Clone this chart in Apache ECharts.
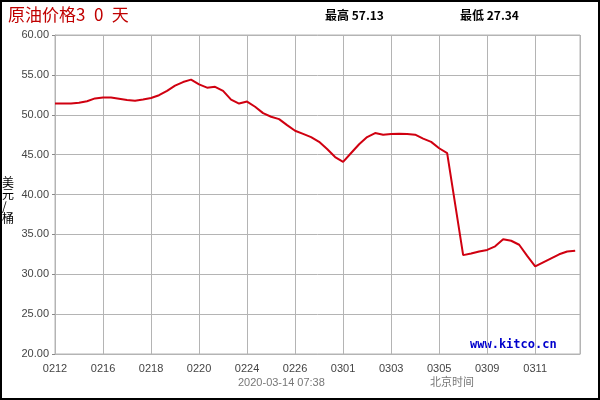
<!DOCTYPE html>
<html>
<head>
<meta charset="utf-8">
<script src="https://cdn.jsdelivr.net/npm/echarts@6/dist/echarts.min.js"></script>
<style>
html,body{margin:0;padding:0;background:#fff;}
#c{width:600px;height:400px;}
</style>
</head>
<body>
<div id="c"></div>
<script>
// tick labels (every 6th sample)
var tickLabels = ['0212','0216','0218','0220','0224','0226','0301','0303','0305','0309','0311'];
var ticksPerLabel = 6;
// price samples (USD / barrel)
var prices = [
  51.4, 51.4, 51.4, 51.5, 51.7, 52.05, 52.15, 52.15, 52.0, 51.85,
  51.75, 51.9, 52.1, 52.45, 53.0, 53.65, 54.1, 54.4, 53.8, 53.4,
  53.5, 53.0, 51.9, 51.4, 51.65, 51.0, 50.2, 49.75, 49.45, 48.7,
  48.0, 47.6, 47.2, 46.6, 45.7, 44.7, 44.1, 45.2, 46.3, 47.2,
  47.7, 47.5, 47.6, 47.62, 47.58, 47.5, 47.0, 46.6, 45.8, 45.2,
  38.8, 32.4, 32.6, 32.85, 33.05, 33.5, 34.4, 34.2, 33.7, 32.3,
  31.0, 31.5, 32.0, 32.5, 32.85, 32.95
];
var titleText = '原油价格3\u20020\u2002天';
var highText = '最高 57.13';
var lowText = '最低 27.34';
var yName = '美元/桶';
var stampText = '2020-03-14 07:38';
var tzText = '北京时间';
var siteText = 'www.kitco.cn';

var chart = echarts.init(document.getElementById('c'), null, {renderer:'canvas'});
var lineData = prices.map(function(v, i){ return [i, v]; });
var font = '"Liberation Sans", Arial, sans-serif';
var cjk = '"Noto Sans CJK SC", sans-serif';

chart.setOption({
  animation: false,
  backgroundColor: '#ffffff',
  grid: {left: 55, right: 20, top: 35, bottom: 46, show: true, borderColor: '#b4b4b4', borderWidth: 1},
  xAxis: {
    type: 'value', min: 0, max: 65.6, interval: ticksPerLabel,
    axisLine: {show: true, lineStyle: {color: '#b4b4b4'}},
    axisTick: {show: false},
    splitLine: {show: true, lineStyle: {color: '#b4b4b4', width: 1}},
    axisLabel: {
      color: '#444', fontSize: 11, fontFamily: font, margin: 9, showMaxLabel: false,
      formatter: function(v){ var k = Math.round(v / ticksPerLabel); return tickLabels[k] || ''; }
    }
  },
  yAxis: {
    type: 'value', min: 20, max: 60, interval: 5,
    axisLine: {show: true, lineStyle: {color: '#b4b4b4'}},
    axisTick: {show: true, length: 3, lineStyle: {color: '#888'}},
    splitLine: {show: true, lineStyle: {color: '#b4b4b4', width: 1}},
    axisLabel: {color: '#444', fontSize: 11, fontFamily: font, margin: 6,
      formatter: function(v){ return v.toFixed(2); }}
  },
  series: [{
    type: 'line', data: lineData, showSymbol: false, symbol: 'none',
    lineStyle: {color: '#d00010', width: 2}
  }],
  graphic: [
    {type: 'rect', shape: {x: 1, y: 1, width: 598, height: 398}, style: {fill: 'none', stroke: '#000', lineWidth: 2}, silent: true},
    {type: 'text', left: 8, top: 6, style: {text: titleText, fill: '#c00000', font: '17px ' + cjk}},
    {type: 'text', left: 325, top: 9, style: {text: highText, fill: '#000', font: 'bold 12px ' + cjk}},
    {type: 'text', left: 460, top: 9, style: {text: lowText, fill: '#000', font: 'bold 12px ' + cjk}},
    {type: 'text', left: 2, top: 176, style: {text: '美\n元\n/\n桶', fill: '#000', font: '12px ' + cjk, lineHeight: 12}},
    {type: 'text', left: 470, top: 339, style: {text: siteText, fill: '#0000cc', font: 'bold 12px "DejaVu Sans Mono", monospace'}},
    {type: 'text', left: 238, top: 377, style: {text: stampText, fill: '#777', font: '11px ' + font}},
    {type: 'text', left: 430, top: 376, style: {text: tzText, fill: '#777', font: '11px ' + cjk}}
  ]
});
</script>
</body>
</html>
